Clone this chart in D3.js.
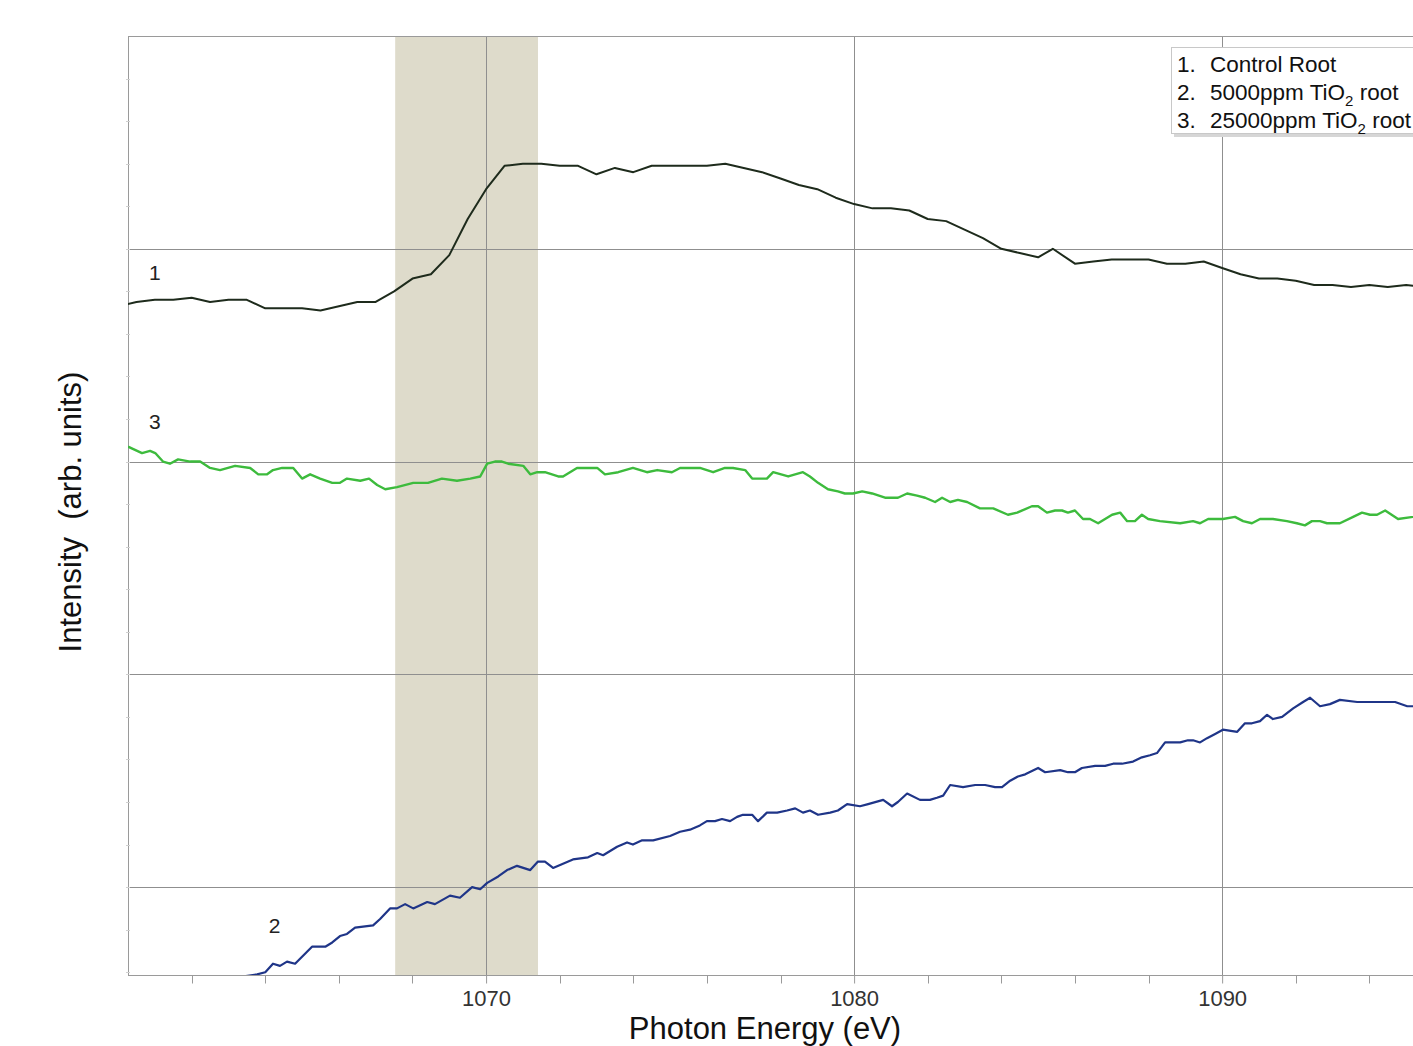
<!DOCTYPE html>
<html>
<head>
<meta charset="utf-8">
<script src="https://cdn.jsdelivr.net/npm/d3@7"></script>
<style>
  body { margin: 0; background: #fff; }
  svg { display: block; font-family: "Liberation Sans", Arial, sans-serif; }
</style>
</head>
<body>
<svg id="chart"></svg>
<script>
// Spectra: [photon energy (eV), intensity (arb. units, offset)]
const controlRoot = [
  [1060.25, 2.74], [1060.5, 2.75], [1061.0, 2.76], [1061.5, 2.76], [1062.0, 2.77], [1062.5, 2.75],
  [1063.0, 2.76], [1063.5, 2.76], [1064.0, 2.72], [1064.5, 2.72], [1065.0, 2.72], [1065.5, 2.71],
  [1066.0, 2.73], [1066.5, 2.75], [1067.0, 2.75], [1067.5, 2.80], [1068.0, 2.86], [1068.5, 2.88],
  [1069.0, 2.97], [1069.5, 3.14], [1070.0, 3.28], [1070.5, 3.39], [1071.0, 3.40], [1071.5, 3.40],
  [1072.0, 3.39], [1072.5, 3.39], [1073.0, 3.35], [1073.5, 3.38], [1074.0, 3.36], [1074.5, 3.39],
  [1075.0, 3.39], [1075.5, 3.39], [1076.0, 3.39], [1076.5, 3.40], [1077.0, 3.38], [1077.5, 3.36],
  [1078.0, 3.33], [1078.5, 3.30], [1079.0, 3.28], [1079.5, 3.24], [1080.0, 3.21], [1080.5, 3.19],
  [1081.0, 3.19], [1081.5, 3.18], [1082.0, 3.14], [1082.5, 3.13], [1083.0, 3.09], [1083.5, 3.05],
  [1084.0, 3.00], [1084.5, 2.98], [1085.0, 2.96], [1085.4, 3.00], [1086.0, 2.93], [1086.5, 2.94],
  [1087.0, 2.95], [1087.5, 2.95], [1088.0, 2.95], [1088.5, 2.93], [1089.0, 2.93], [1089.5, 2.94],
  [1090.0, 2.91], [1090.5, 2.88], [1091.0, 2.86], [1091.5, 2.86], [1092.0, 2.85], [1092.5, 2.83],
  [1093.0, 2.83], [1093.5, 2.82], [1094.0, 2.83], [1094.5, 2.82], [1095.0, 2.83], [1095.5, 2.82]
];

const tio2_25000 = [
  [1060.27, 2.07], [1060.65, 2.04], [1060.87, 2.05], [1061.01, 2.04], [1061.22, 2.00], [1061.41, 1.99],
  [1061.63, 2.01], [1061.96, 2.00], [1062.23, 2.00], [1062.50, 1.97], [1062.77, 1.96], [1063.18, 1.98],
  [1063.59, 1.97], [1063.81, 1.94], [1064.05, 1.94], [1064.21, 1.96], [1064.46, 1.97], [1064.76, 1.97],
  [1065.00, 1.92], [1065.22, 1.94], [1065.49, 1.92], [1065.82, 1.90], [1066.03, 1.90], [1066.22, 1.92],
  [1066.58, 1.91], [1066.82, 1.92], [1067.04, 1.89], [1067.26, 1.87], [1067.58, 1.88], [1068.02, 1.90],
  [1068.42, 1.90], [1068.80, 1.92], [1069.21, 1.91], [1069.57, 1.92], [1069.84, 1.93], [1070.03, 1.99],
  [1070.24, 2.00], [1070.43, 2.00], [1070.60, 1.99], [1071.01, 1.98], [1071.20, 1.94], [1071.39, 1.95],
  [1071.60, 1.95], [1071.96, 1.93], [1072.09, 1.93], [1072.47, 1.97], [1072.74, 1.97], [1073.02, 1.97],
  [1073.23, 1.94], [1073.59, 1.95], [1073.99, 1.97], [1074.37, 1.95], [1074.65, 1.96], [1075.05, 1.95],
  [1075.27, 1.97], [1075.62, 1.97], [1075.81, 1.97], [1076.17, 1.95], [1076.49, 1.97], [1076.71, 1.97],
  [1077.04, 1.96], [1077.23, 1.92], [1077.63, 1.92], [1077.80, 1.95], [1078.21, 1.93], [1078.61, 1.95],
  [1078.80, 1.93], [1079.02, 1.90], [1079.29, 1.87], [1079.56, 1.86], [1079.75, 1.85], [1079.97, 1.85],
  [1080.22, 1.86], [1080.49, 1.85], [1080.84, 1.83], [1081.03, 1.83], [1081.19, 1.83], [1081.44, 1.85],
  [1081.71, 1.84], [1081.93, 1.83], [1082.20, 1.81], [1082.39, 1.83], [1082.61, 1.81], [1082.82, 1.82],
  [1083.07, 1.81], [1083.42, 1.78], [1083.78, 1.78], [1084.18, 1.75], [1084.43, 1.76], [1084.83, 1.79],
  [1085.00, 1.79], [1085.24, 1.76], [1085.46, 1.77], [1085.65, 1.77], [1085.81, 1.76], [1086.00, 1.77],
  [1086.22, 1.73], [1086.41, 1.73], [1086.63, 1.71], [1087.01, 1.75], [1087.23, 1.76], [1087.42, 1.72],
  [1087.63, 1.72], [1087.82, 1.75], [1087.99, 1.73], [1088.31, 1.72], [1088.86, 1.71], [1089.21, 1.72],
  [1089.40, 1.71], [1089.62, 1.73], [1090.02, 1.73], [1090.35, 1.74], [1090.57, 1.72], [1090.81, 1.71],
  [1091.03, 1.73], [1091.38, 1.73], [1091.76, 1.72], [1092.03, 1.71], [1092.25, 1.70], [1092.44, 1.72],
  [1092.66, 1.72], [1092.85, 1.71], [1093.20, 1.71], [1093.56, 1.74], [1093.80, 1.76], [1094.02, 1.75],
  [1094.21, 1.75], [1094.43, 1.77], [1094.78, 1.73], [1095.19, 1.74], [1095.5, 1.75]
];

const tio2_5000 = [
  [1063.00, -0.45], [1063.40, -0.42], [1063.78, -0.41], [1064.00, -0.40], [1064.21, -0.36], [1064.40, -0.37],
  [1064.59, -0.35], [1064.81, -0.36], [1065.27, -0.28], [1065.63, -0.28], [1065.82, -0.26], [1066.03, -0.23],
  [1066.22, -0.22], [1066.44, -0.19], [1066.93, -0.18], [1067.12, -0.15], [1067.39, -0.10], [1067.58, -0.10],
  [1067.80, -0.08], [1068.02, -0.10], [1068.40, -0.07], [1068.61, -0.08], [1069.02, -0.04], [1069.29, -0.05],
  [1069.62, 0.00], [1069.84, -0.01], [1070.03, 0.02], [1070.33, 0.05], [1070.57, 0.08], [1070.84, 0.10],
  [1071.20, 0.08], [1071.41, 0.12], [1071.60, 0.12], [1071.82, 0.09], [1072.09, 0.11], [1072.36, 0.13],
  [1072.77, 0.14], [1073.02, 0.16], [1073.18, 0.15], [1073.56, 0.19], [1073.83, 0.21], [1073.99, 0.20],
  [1074.24, 0.22], [1074.54, 0.22], [1075.00, 0.24], [1075.27, 0.26], [1075.54, 0.27], [1075.81, 0.29],
  [1076.00, 0.31], [1076.22, 0.31], [1076.41, 0.32], [1076.63, 0.31], [1076.82, 0.33], [1076.98, 0.34],
  [1077.23, 0.34], [1077.39, 0.31], [1077.63, 0.35], [1077.91, 0.35], [1078.18, 0.36], [1078.40, 0.37],
  [1078.61, 0.35], [1078.80, 0.36], [1079.02, 0.34], [1079.35, 0.35], [1079.56, 0.36], [1079.81, 0.39],
  [1080.16, 0.38], [1080.38, 0.39], [1080.79, 0.41], [1081.03, 0.38], [1081.19, 0.40], [1081.44, 0.44],
  [1081.79, 0.41], [1082.06, 0.41], [1082.25, 0.42], [1082.42, 0.43], [1082.61, 0.48], [1082.96, 0.47],
  [1083.29, 0.48], [1083.56, 0.48], [1083.83, 0.47], [1084.02, 0.47], [1084.24, 0.50], [1084.45, 0.52],
  [1084.65, 0.53], [1085.00, 0.56], [1085.19, 0.54], [1085.60, 0.55], [1085.81, 0.54], [1086.00, 0.54],
  [1086.19, 0.56], [1086.55, 0.57], [1086.82, 0.57], [1087.04, 0.58], [1087.28, 0.58], [1087.58, 0.59],
  [1087.82, 0.61], [1088.04, 0.62], [1088.23, 0.63], [1088.45, 0.68], [1088.86, 0.68], [1089.07, 0.69],
  [1089.21, 0.69], [1089.40, 0.68], [1089.59, 0.70], [1089.81, 0.72], [1090.02, 0.74], [1090.41, 0.73],
  [1090.62, 0.77], [1090.81, 0.77], [1091.03, 0.78], [1091.22, 0.81], [1091.38, 0.79], [1091.63, 0.80],
  [1091.93, 0.84], [1092.20, 0.87], [1092.39, 0.89], [1092.66, 0.85], [1092.93, 0.86], [1093.20, 0.88],
  [1093.67, 0.87], [1093.94, 0.87], [1094.37, 0.87], [1094.70, 0.87], [1095.03, 0.85], [1095.19, 0.85],
  [1095.5, 0.86]
];

const xDomain = [1060.27, 1095.92];
const yDomain = [-0.413, 4.0];
const xMajorTicks = [1070, 1080, 1090];
const xMinorTicks = [1062, 1064, 1066, 1068, 1072, 1074, 1076, 1078, 1082, 1084, 1086, 1088, 1092, 1094];
const yGridValues = [0, 1, 2, 3];
const yMinorTicks = d3.range(-0.4, 4.0, 0.2);
const band = [1067.53, 1071.41];

const curveLabels = [
  { text: "1", x: 1061.0, y: 2.88 },
  { text: "3", x: 1061.0, y: 2.18 },
  { text: "2", x: 1064.25, y: -0.19 }
];
const legendItems = [
  { num: "1.", name: "Control Root", sub: null, tail: "" },
  { num: "2.", name: "5000ppm TiO", sub: "2", tail: " root" },
  { num: "3.", name: "25000ppm TiO", sub: "2", tail: " root" }
];

const width = 1413;
const height = 1046;
const margin = { top: 36, left: 128, bottom: 71 };
const plotRight = 1440;
const plotBottom = height - margin.bottom;

const svg = d3.select("#chart")
    .attr("width", width)
    .attr("height", height);

const x = d3.scaleLinear().domain(xDomain).range([margin.left, plotRight]);
const y = d3.scaleLinear().domain(yDomain).range([plotBottom, margin.top]);

svg.append("defs").append("clipPath")
    .attr("id", "plot-clip")
  .append("rect")
    .attr("x", margin.left)
    .attr("y", margin.top)
    .attr("width", plotRight - margin.left)
    .attr("height", plotBottom - margin.top);

// Shaded energy band
svg.append("rect")
    .attr("x", x(band[0]))
    .attr("y", margin.top)
    .attr("width", x(band[1]) - x(band[0]))
    .attr("height", plotBottom - margin.top)
    .attr("fill", "#dedbcb");

// Grid lines
svg.append("g")
    .selectAll("line")
    .data(yGridValues)
    .enter().append("line")
    .attr("x1", margin.left)
    .attr("x2", plotRight)
    .attr("y1", d => Math.round(y(d)) + 0.5)
    .attr("y2", d => Math.round(y(d)) + 0.5)
    .attr("stroke", "#8f8f8f")
    .attr("stroke-width", 1);

svg.append("g")
    .selectAll("line")
    .data(xMajorTicks)
    .enter().append("line")
    .attr("x1", d => Math.round(x(d)) + 0.5)
    .attr("x2", d => Math.round(x(d)) + 0.5)
    .attr("y1", margin.top)
    .attr("y2", plotBottom)
    .attr("stroke", "#8f8f8f")
    .attr("stroke-width", 1);

// Frame: top border
svg.append("line")
    .attr("x1", margin.left).attr("x2", plotRight)
    .attr("y1", margin.top + 0.5).attr("y2", margin.top + 0.5)
    .attr("stroke", "#9a9a9a");

// X axis with major and minor ticks
const xAxis = svg.append("g")
    .attr("transform", `translate(0,${plotBottom + 0.5})`)
    .call(d3.axisBottom(x).tickValues(xMajorTicks).tickSize(8).tickPadding(7).tickFormat(d3.format("d")));
xAxis.select(".domain").attr("stroke", "#9a9a9a").attr("d", `M${margin.left},0H${plotRight}`);
xAxis.selectAll(".tick line").attr("stroke", "#9a9a9a");
xAxis.selectAll("text")
    .attr("fill", "#333")
    .attr("font-size", 22)
    .attr("font-family", "'Liberation Sans', Arial, sans-serif");

svg.append("g")
    .attr("transform", `translate(0,${plotBottom + 0.5})`)
    .selectAll("line")
    .data(xMinorTicks)
    .enter().append("line")
    .attr("x1", d => Math.round(x(d)) + 0.5)
    .attr("x2", d => Math.round(x(d)) + 0.5)
    .attr("y1", 0)
    .attr("y2", 8)
    .attr("stroke", "#9a9a9a");

// Y axis: line plus faint minor ticks, no labels
svg.append("line")
    .attr("x1", margin.left + 0.5).attr("x2", margin.left + 0.5)
    .attr("y1", margin.top).attr("y2", plotBottom)
    .attr("stroke", "#9a9a9a");

svg.append("g")
    .selectAll("line")
    .data(yMinorTicks)
    .enter().append("line")
    .attr("x1", margin.left - 2)
    .attr("x2", margin.left + 2)
    .attr("y1", d => Math.round(y(d)) + 0.5)
    .attr("y2", d => Math.round(y(d)) + 0.5)
    .attr("stroke", "#d0d0d0");

// Spectra
const line = d3.line()
    .x(d => x(d[0]))
    .y(d => y(d[1]));

const series = [
  { data: controlRoot, color: "#1e2b1c", width: 2 },
  { data: tio2_25000, color: "#3dbb3d", width: 2.4 },
  { data: tio2_5000, color: "#1f3588", width: 2.2 }
];

svg.append("g")
    .attr("clip-path", "url(#plot-clip)")
    .selectAll("path")
    .data(series)
    .enter().append("path")
    .attr("d", d => line(d.data))
    .attr("fill", "none")
    .attr("stroke", d => d.color)
    .attr("stroke-width", d => d.width)
    .attr("stroke-linejoin", "round");

// Curve number labels
svg.append("g")
    .selectAll("text")
    .data(curveLabels)
    .enter().append("text")
    .attr("x", d => x(d.x))
    .attr("y", d => y(d.y))
    .attr("text-anchor", "middle")
    .attr("dominant-baseline", "middle")
    .attr("font-size", 21)
    .attr("fill", "#222")
    .text(d => d.text);

// Legend
const legend = svg.append("g")
    .attr("id", "legend")
    .attr("transform", "translate(1171,47)");

legend.append("rect")
    .attr("x", 3).attr("y", 3)
    .attr("width", 300).attr("height", 87)
    .attr("fill", "#d6d6d6");
legend.append("rect")
    .attr("x", 0.5).attr("y", 0.5)
    .attr("width", 300).attr("height", 86)
    .attr("fill", "#fff")
    .attr("stroke", "#c8c8c8");

const legendText = legend.selectAll("text")
    .data(legendItems)
    .enter().append("text")
    .attr("y", (d, i) => 25 + i * 28)
    .attr("font-size", 22.5)
    .attr("fill", "#111");

legendText.append("tspan").attr("x", 6).text(d => d.num);
legendText.append("tspan").attr("x", 39).text(d => d.name);
legendText.filter(d => d.sub)
    .append("tspan")
    .attr("font-size", 15)
    .attr("dy", 6)
    .text(d => d.sub);
legendText.filter(d => d.sub)
    .append("tspan")
    .attr("dy", -6)
    .text(d => d.tail);

// Axis titles
svg.append("text")
    .attr("x", 765)
    .attr("y", 1039)
    .attr("text-anchor", "middle")
    .attr("font-size", 31)
    .attr("fill", "#111")
    .text("Photon Energy (eV)");

svg.append("text")
    .attr("transform", `translate(81,${512}) rotate(-90)`)
    .attr("text-anchor", "middle")
    .attr("font-size", 31)
    .attr("fill", "#111")
    .attr("xml:space", "preserve")
    .style("white-space", "pre")
    .text("Intensity  (arb. units)");
</script>
</body>
</html>
